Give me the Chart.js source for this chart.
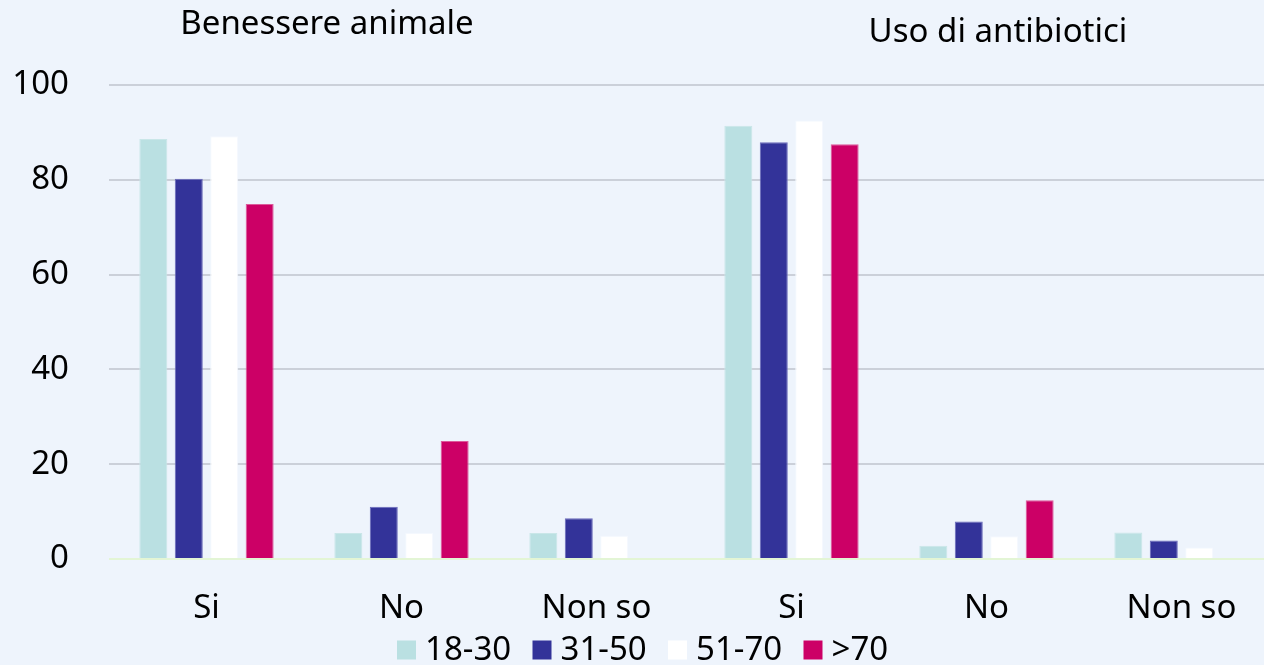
<!DOCTYPE html>
<html><head><meta charset="utf-8">
<script src="https://cdn.jsdelivr.net/npm/chart.js@4.4.0/dist/chart.umd.min.js"></script>
<style>
html,body{margin:0;padding:0;background:#EEF4FC;overflow:hidden;}
#wrap{width:1264px;height:665px;position:relative;overflow:hidden;}
</style></head>
<body><div id="wrap"><canvas id="c" width="1279" height="665"></canvas></div>
<script>
const categories = ["Si","No","Non so","Si","No","Non so"];
const groupTitles = ["Benessere animale","Uso di antibiotici"];
const seriesNames = ["18-30","31-50","51-70",">70"];
const s1830 = [88.6, 5.5, 5.5, 91.4, 2.8, 5.6];
const s3150 = [80.2, 11.0, 8.6, 87.9, 7.9, 3.9];
const s5170 = [89.2, 5.5, 4.9, 92.5, 4.8, 2.4];
const s70   = [74.9, 24.9, 0, 87.5, 12.4, 0];
const yTicks = [0,20,40,60,80,100];

const colors = ["#BAE0E2","#333399","#FFFFFF","#CC0066"];
const borders = ["#C9E6E8","#6A6ABA","#F4F8FE","#DC5A9A"];
const vals = [s1830,s3150,s5170,s70];

const FONT = "'Noto Sans', 'Open Sans', sans-serif";
const FS = 33;

const titlePlugin = {
  id:'groupTitles',
  afterDraw(chart){
    const ctx = chart.ctx;
    ctx.save();
    ctx.fillStyle = '#000';
    ctx.font = `${FS}px ${FONT}`;
    ctx.textAlign = 'center';
    ctx.textBaseline = 'middle';
    ctx.fillText(groupTitles[0], 327, 25);
    ctx.fillText(groupTitles[1], 998, 33);
    // legend
    const ds = chart.data.datasets;
    const box = 19, pitch = 135.5, x0 = 397;
    const yc = 650;
    ctx.textAlign = 'left';
    ds.forEach((d,i)=>{
      const x = x0 + i*pitch;
      ctx.fillStyle = d.backgroundColor;
      ctx.fillRect(x, yc - box/2, box, box);
      ctx.fillStyle = '#000';
      ctx.fillText(d.label, x + box + 9, yc+1);
    });
    ctx.restore();
  }
};
const bgPlugin = {
  id:'bg',
  beforeDraw(chart){
    const ctx = chart.ctx;
    ctx.save(); ctx.fillStyle = '#EEF4FC'; ctx.fillRect(0,0,chart.width,chart.height); ctx.restore();
  }
};

new Chart(document.getElementById('c'), {
  type:'bar',
  data:{
    labels: categories,
    datasets: seriesNames.map((n,i)=>({
      label:n, data:vals[i], backgroundColor:colors[i], borderColor:borders[i], borderWidth:1,
      barPercentage:0.79, categoryPercentage:0.727
    }))
  },
  options:{
    responsive:false, animation:false,
    layout:{padding:{top:85,right:0,left:0,bottom:0}},
    plugins:{
      legend:{display:false},
      tooltip:{enabled:false},
      title:{display:false}
    },
    scales:{
      x:{
        grid:{display:false},
        border:{display:false},
        ticks:{font:{family:FONT,size:FS}, color:'#000', padding:22},
        afterFit(ax){ ax.height = 106; }
      },
      y:{
        min:0, max:100,
        afterBuildTicks(ax){ ax.ticks = yTicks.map(v=>({value:v})); },
        grid:{color:(c)=> c.tick && c.tick.value===0 ? '#E3F5D5' : '#CBD0D9', lineWidth:2, drawTicks:false},
        border:{display:false},
        ticks:{font:{family:FONT,size:FS}, color:'#000', padding:40},
        afterFit(ax){ ax.width = 109; }
      }
    }
  },
  plugins:[bgPlugin,titlePlugin]
});
</script></body></html>
